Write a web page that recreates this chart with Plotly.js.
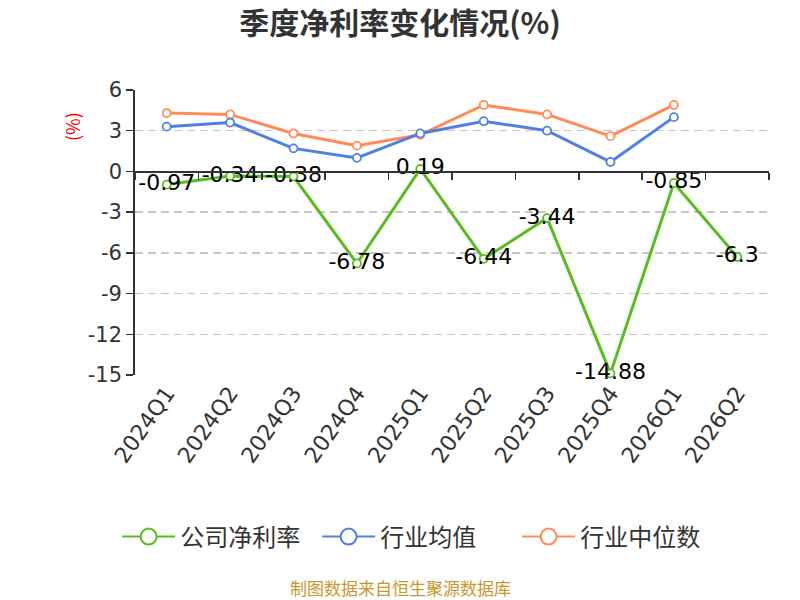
<!DOCTYPE html>
<html>
<head>
<meta charset="utf-8">
<script src="https://cdn.plot.ly/plotly-3.0.1.min.js"></script>
<style>
  html, body { margin: 0; padding: 0; background: #fff; }
  #chart { width: 800px; height: 600px; }
</style>
</head>
<body>
<div id="chart"></div>
<script>
// quarters on the x axis
var quarters = ['2024Q1', '2024Q2', '2024Q3', '2024Q4', '2025Q1', '2025Q2', '2025Q3', '2025Q4', '2026Q1', '2026Q2'];
// net margin of the company, %
var companyMargin = [-0.97, -0.34, -0.38, -6.78, 0.19, -6.44, -3.44, -14.88, -0.85, -6.3];
// industry average and median, % (no value for 2026Q2)
var industryAvg = [3.3, 3.6, 1.7, 1.0, 2.8, 3.7, 3.0, 0.7, 4.0];
var industryMedian = [4.3, 4.2, 2.8, 1.9, 2.7, 4.9, 4.2, 2.6, 4.9];
var yTicks = [6, 3, 0, -3, -6, -9, -12, -15];

var green = '#58bd1e', blue = '#4f80e2', orange = '#ff8c58';
var cjk = '"Noto Sans CJK SC", "Noto Sans", sans-serif';
var num = '"DejaVu Sans", "Noto Sans", sans-serif';

function series(name, xs, ys, color, xaxis, withText) {
  var t = {
    x: xs.slice(0, ys.length),
    y: ys,
    name: name,
    type: 'scatter',
    mode: withText ? 'lines+markers+text' : 'lines+markers',
    xaxis: xaxis,
    line: { color: color, width: 3 },
    marker: { symbol: 'circle', size: 8, color: '#fff', line: { color: color, width: 1.8 } },
    showlegend: false,
    cliponaxis: false,
    hoverinfo: 'x+y'
  };
  if (withText) {
    t.text = ys.map(function (v) { return String(v); });
    t.textposition = 'middle center';
    t.textfont = { size: 22, color: '#000', family: num };
  }
  return t;
}

// legend only entries, so the legend circles can be bigger than the chart markers
function legendEntry(name, color) {
  return {
    x: [quarters[0]], y: [null], name: name, type: 'scatter', mode: 'lines+markers',
    line: { color: color, width: 2 },
    marker: { symbol: 'circle', size: 17, color: '#fff', line: { color: color, width: 2 } },
    hoverinfo: 'skip'
  };
}

var traces = [
  series('行业中位数', quarters, industryMedian, orange, 'x', false),
  series('行业均值', quarters, industryAvg, blue, 'x', false),
  series('公司净利率', quarters, companyMargin, green, 'x2', true),
  legendEntry('公司净利率', green),
  legendEntry('行业均值', blue),
  legendEntry('行业中位数', orange)
];

var plotTop = 90, plotBottom = 375, plotH = plotBottom - plotTop;
function paperY(px) { return (plotBottom - px) / plotH; }

var layout = {
  width: 800,
  height: 600,
  margin: { l: 135, r: 31, t: plotTop, b: 600 - plotBottom },
  paper_bgcolor: '#fff',
  plot_bgcolor: '#fff',
  font: { family: cjk, color: '#333' },
  title: {
    text: '<b>季度净利率变化情况(%)</b>',
    font: { size: 30, color: '#333', family: cjk },
    x: 0.5, xanchor: 'center',
    y: 1 - 23 / 600, yref: 'container', yanchor: 'middle'
  },
  xaxis: {
    type: 'category',
    categoryorder: 'array',
    categoryarray: quarters,
    range: [-0.5, quarters.length - 0.5],
    showline: false,
    showgrid: false,
    zeroline: false,
    ticks: '',
    tickangle: -55,
    tickfont: { size: 22, color: '#333', family: num },
    fixedrange: true
  },
  // second x axis only draws the axis line through zero with boundary ticks
  xaxis2: {
    type: 'category',
    overlaying: 'x',
    anchor: 'free',
    position: 15 / 21,
    categoryorder: 'array',
    categoryarray: quarters,
    range: [-0.5, quarters.length - 0.5],
    showline: true,
    linecolor: '#333',
    linewidth: 1.8,
    ticks: 'outside',
    tickson: 'boundaries',
    ticklen: 7,
    tickwidth: 1.5,
    tickcolor: '#333',
    showticklabels: false,
    showgrid: false,
    zeroline: false
  },
  yaxis: {
    range: [-15, 6],
    tickvals: yTicks,
    ticktext: yTicks.map(String),
    showline: true,
    linecolor: '#333',
    linewidth: 1.8,
    ticks: 'outside',
    ticklen: 7,
    tickwidth: 1.5,
    tickcolor: '#333',
    showgrid: true,
    gridcolor: '#c8c8c8',
    gridwidth: 1.4,
    griddash: '8px,5px',
    zeroline: false,
    tickfont: { size: 21, color: '#333', family: num },
    fixedrange: true
  },
  legend: {
    orientation: 'h',
    x: 0.445, xanchor: 'center',
    y: paperY(537), yanchor: 'middle',
    font: { size: 24, color: '#333', family: cjk },
    itemwidth: 53,
    entrywidth: 132,
    entrywidthmode: 'pixels',
    itemclick: false,
    itemdoubleclick: false
  },
  annotations: [
    {
      text: '(%)', textangle: -90,
      xref: 'paper', yref: 'paper',
      x: (72 - 135) / 634, y: paperY(127),
      xanchor: 'center', yanchor: 'middle',
      showarrow: false,
      font: { size: 18, color: '#ff0000', family: cjk }
    },
    {
      text: '制图数据来自恒生聚源数据库',
      xref: 'paper', yref: 'paper',
      x: (400 - 135) / 634, y: paperY(587),
      xanchor: 'center', yanchor: 'middle',
      showarrow: false,
      font: { size: 17, color: '#c9962b', family: cjk }
    }
  ]
};

Plotly.newPlot('chart', traces, layout, { displayModeBar: false, staticPlot: true });
</script>
</body>
</html>
